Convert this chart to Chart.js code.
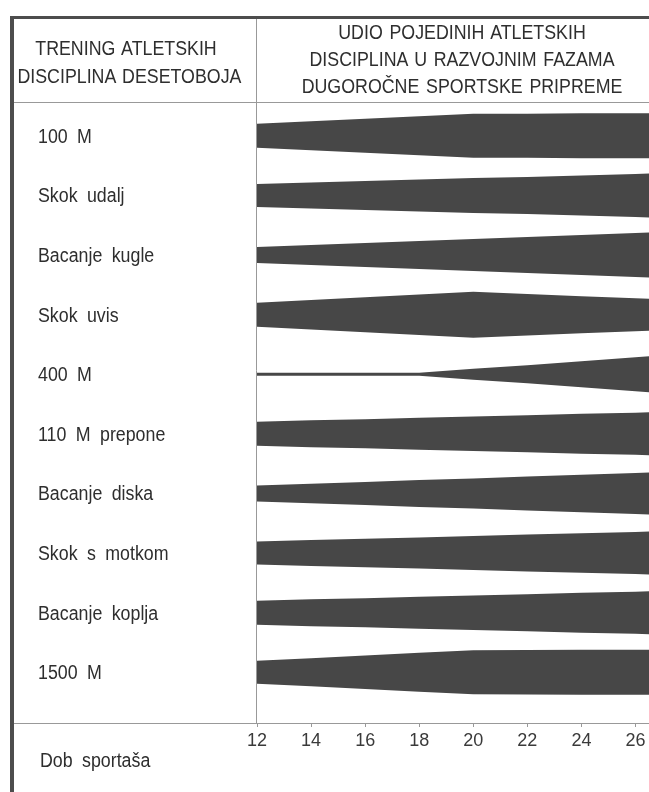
<!DOCTYPE html>
<html>
<head>
<meta charset="utf-8">
<script src="https://cdn.jsdelivr.net/npm/chart.js@4.4.1/dist/chart.umd.min.js"></script>
<style>
    html, body { margin: 0; padding: 0; background: #fff; }
    body { width: 649px; height: 792px; position: relative; overflow: hidden;
           font-family: "Liberation Sans", Arial, sans-serif; color: #2e2e2e; font-size: 20px; }
    #wrap { position: absolute; left: 0; top: 0; width: 649px; height: 792px; }
    .head { position: absolute; text-align: center; white-space: nowrap; word-spacing: 2px;
            transform: scaleX(0.89); transform-origin: center top; }
    #headLeft { left: 4px; width: 244px; top: 34px; line-height: 28px; }
    #headRight { left: 257px; width: 410px; top: 19px; line-height: 27px; }
    .lab { position: absolute; left: 38px; line-height: 24px; white-space: nowrap; word-spacing: 5px;
           transform: scaleX(0.89); transform-origin: left top; }
    #ageLabel { top: 748px; left: 40px; }
</style>
</head>
<body>
<div id="wrap"><canvas id="bandChart" width="649" height="792"></canvas></div>
<div class="head" id="headLeft">TRENING ATLETSKIH<br>DISCIPLINA DESETOBOJA</div>
<div class="head" id="headRight">UDIO POJEDINIH ATLETSKIH<br>DISCIPLINA U RAZVOJNIM FAZAMA<br>DUGOROČNE SPORTSKE PRIPREME</div>
<div class="lab" id="ageLabel">Dob sportaša</div>
<script>
// Disciplines (rows, top to bottom)
const disciplines = ['100 M', 'Skok udalj', 'Bacanje kugle', 'Skok uvis', '400 M',
    '110 M prepone', 'Bacanje diska', 'Skok s motkom', 'Bacanje koplja', '1500 M'];

// Age points where the share is read, and the ticks on the age axis
const ages = [12, 14, 16, 18, 20, 22, 24, 26, 27];
const ageTicks = [12, 14, 16, 18, 20, 22, 24, 26];

// Share of each discipline (band thickness) at each age point
const udio100m      = [24, 29, 34, 39, 44, 44, 45, 45, 45];
const udioSkokUdalj = [23, 26, 29, 32, 35, 37, 40, 43, 45];
const udioKugla     = [16, 20, 24, 28, 32, 36, 40, 44, 46];
const udioSkokUvis  = [24, 29.5, 35, 40.5, 46, 41.5, 37, 33, 31];
const udio400m      = [3, 3, 3, 3, 11, 18, 26, 34, 38];
const udio110m      = [24, 27, 29, 32, 34.5, 37, 40, 42, 44];
const udioDisk      = [16, 19.5, 23, 27, 30, 34, 37.5, 41, 43];
const udioMotka     = [23, 26, 28.5, 31, 34, 37, 39.5, 42, 44];
const udioKoplje    = [24, 27, 29, 32, 34.5, 37, 40, 42, 44];
const udio1500m     = [23, 28, 33.5, 39, 44, 44.5, 45, 45, 45];

const shares = [udio100m, udioSkokUdalj, udioKugla, udioSkokUvis, udio400m,
    udio110m, udioDisk, udioMotka, udioKoplje, udio1500m];

const BAND_COLOR = '#474747';
const SHARE_TO_ROW = 1 / 59.6;   // share units -> row units on the y scale

// Each discipline is an upper and a lower edge, filled between them
const datasets = [];
shares.forEach((vals, i) => {
    const row = i + 1;
    datasets.push({
        label: disciplines[i],
        data: ages.map((a, j) => ({ x: a, y: row - vals[j] * SHARE_TO_ROW / 2 })),
        borderWidth: 0, pointRadius: 0, tension: 0, fill: false,
        backgroundColor: BAND_COLOR, borderColor: BAND_COLOR
    });
    datasets.push({
        label: disciplines[i] + ' (donji rub)',
        data: ages.map((a, j) => ({ x: a, y: row + vals[j] * SHARE_TO_ROW / 2 })),
        borderWidth: 0, pointRadius: 0, tension: 0, fill: '-1',
        backgroundColor: BAND_COLOR, borderColor: BAND_COLOR
    });
});

// Table frame: borders, header line, column divider, age axis line
const framePlugin = {
    id: 'frame',
    afterDraw(chart) {
        const ctx = chart.ctx;
        const area = chart.chartArea;
        ctx.save();
        ctx.strokeStyle = '#999';
        ctx.lineWidth = 1;
        ctx.beginPath();
        ctx.moveTo(13, area.top - 0.5); ctx.lineTo(649, area.top - 0.5);          // below header
        ctx.moveTo(area.left - 0.5, 18); ctx.lineTo(area.left - 0.5, area.bottom); // column divider
        ctx.moveTo(13, area.bottom + 0.5); ctx.lineTo(649, area.bottom + 0.5);    // age axis
        ctx.stroke();
        ctx.fillStyle = '#4d4d4d';
        ctx.fillRect(10, 16, 639, 3);   // top border
        ctx.fillRect(10, 16, 4, 776);   // left border
        ctx.restore();
    }
};

const chart = new Chart(document.getElementById('bandChart').getContext('2d'), {
    type: 'line',
    data: { datasets: datasets },
    options: {
        responsive: false,
        animation: false,
        layout: { padding: { top: 103, left: 39, right: 0, bottom: 0 } },
        plugins: {
            legend: { display: false },
            title: { display: false },
            tooltip: { enabled: false }
        },
        scales: {
            x: {
                type: 'linear',
                position: 'bottom',
                min: 12,
                max: 26.5,
                afterBuildTicks: axis => { axis.ticks = ageTicks.map(v => ({ value: v })); },
                afterFit: axis => { axis.height = 69; },
                grid: { drawOnChartArea: false, drawTicks: true, tickLength: 4, color: '#999' },
                border: { display: false },
                ticks: { color: '#3a3a3a', padding: 3, maxRotation: 0,
                         font: { family: '"Liberation Sans", Arial, sans-serif', size: 18 } }
            },
            y: {
                type: 'linear',
                reverse: true,
                min: 0.45,
                max: 10.85,
                afterBuildTicks: axis => { axis.ticks = disciplines.map((d, i) => ({ value: i + 1 })); },
                afterFit: axis => { axis.width = 218; },
                grid: { display: false },
                border: { display: false },
                ticks: { display: false }
            }
        }
    },
    plugins: [framePlugin]
});

// Row labels as text, placed at each row's position on the y scale
disciplines.forEach((name, i) => {
    const el = document.createElement('div');
    el.className = 'lab';
    el.textContent = name;
    el.style.top = (chart.scales.y.getPixelForValue(i + 1) - 12) + 'px';
    document.body.appendChild(el);
});
</script>
</body>
</html>
